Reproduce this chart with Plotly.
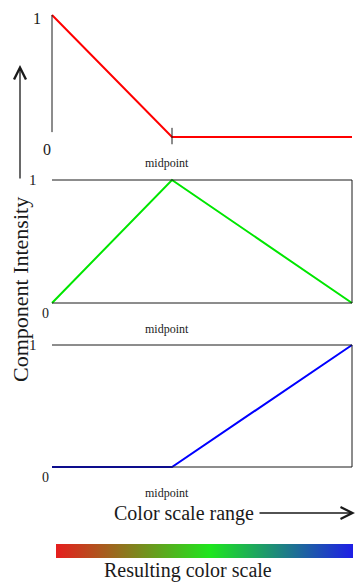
import plotly.graph_objects as go

W, H = 359, 583
FONT = 'Liberation Serif'
INK = '#1a1a1a'

# posicion sobre la escala de colores (0 = inicio, 1 = final)
scale_x = [0, 0.4, 1]
red_vals = [1, 0, 0]
green_vals = [0, 1, 0]
blue_vals = [0, 0, 1]
midpoint = 0.4

# barra de colores resultante
bar_stops = [0, 0.52, 1]
bar_colors = ['#e61e1e', '#1ee61e', '#1e1ee6']

tick_low = '0'
tick_high = '1'
mid_label = 'midpoint'

# --- maquetacion en pixeles ---
X0, X1 = 52, 352
PAD_X, PAD_Y = 0.02, 0.06
# (px de y=1, px de y=0) para cada panel
panels = [(15, 137), (180, 303), (345, 467)]
series = [(red_vals, '#ff0000'), (green_vals, '#00e600'), (blue_vals, '#0000ff')]


def x_domain():
    span = X1 - X0
    return [(X0 - PAD_X * span) / W, (X1 + PAD_X * span) / W]


def y_domain(top, bot):
    span = bot - top
    return [1 - (bot + PAD_Y * span) / H, 1 - (top - PAD_Y * span) / H]


fig = go.Figure()
shapes = []
annotations = []
line_style = dict(color=INK, width=1)

for i, ((top, bot), (vals, color)) in enumerate(zip(panels, series)):
    n = '' if i == 0 else str(i + 1)
    xa, ya = 'x' + n, 'y' + n
    fig.add_trace(go.Scatter(x=scale_x, y=vals, mode='lines',
                             line=dict(color=color, width=2),
                             xaxis=xa, yaxis=ya, showlegend=False,
                             hoverinfo='skip'))
    ax_opts = dict(visible=False, fixedrange=True)
    fig.update_layout(**{
        'xaxis' + n: dict(domain=x_domain(), range=[-PAD_X, 1 + PAD_X],
                          anchor=ya, **ax_opts),
        'yaxis' + n: dict(domain=y_domain(top, bot), range=[-PAD_Y, 1 + PAD_Y],
                          anchor=xa, **ax_opts),
    })
    ref = dict(xref=xa, yref=ya)
    if i == 0:
        shapes.append(dict(type='line', x0=0, x1=0, y0=0.04, y1=1, line=line_style, **ref))
        shapes.append(dict(type='line', x0=midpoint, x1=midpoint, y0=-0.11, y1=0.075,
                           line=line_style, **ref))
        annotations.append(dict(x=0, y=1, text=tick_high, showarrow=False,
                                xanchor='right', xshift=-9, yshift=-3,
                                font=dict(size=16), **ref))
        annotations.append(dict(x=0, y=0, text=tick_low, showarrow=False,
                                xanchor='right', yanchor='top', xshift=1, yshift=-2,
                                font=dict(size=16), **ref))
    else:
        for x0, x1, y0, y1 in [(0, 1, 1, 1), (1, 1, 0, 1), (0, 1, 0, 0)]:
            shapes.append(dict(type='line', x0=x0, x1=x1, y0=y0, y1=y1,
                               line=line_style, **ref))
        annotations.append(dict(x=0, y=1, text=tick_high, showarrow=False,
                                xanchor='right', xshift=-13,
                                font=dict(size=15), **ref))
        annotations.append(dict(x=0, y=0, text=tick_low, showarrow=False,
                                xanchor='right', yanchor='top', xshift=-1, yshift=-1,
                                font=dict(size=14), **ref))
    annotations.append(dict(x=midpoint, y=0, text=mid_label, showarrow=False,
                            yanchor='top', xshift=-5, yshift=-17,
                            font=dict(size=12), **ref))

# traza auxiliar solo para mostrar la escala de colores
fig.add_trace(go.Scatter(
    x=[0.5], y=[-10], mode='markers', xaxis='x3', yaxis='y3',
    showlegend=False, hoverinfo='skip',
    marker=dict(color=[0], cmin=0, cmax=1,
                colorscale=[[s, c] for s, c in zip(bar_stops, bar_colors)],
                showscale=True,
                colorbar=dict(orientation='h', x=(56 + 353) / 2 / W, xanchor='center',
                              y=1 - 544 / H, yanchor='top', len=297, lenmode='pixels',
                              thickness=14, thicknessmode='pixels', outlinewidth=0,
                              showticklabels=False, ticks='', xpad=0, ypad=0))))

paper = dict(xref='paper', yref='paper', xanchor='center', yanchor='middle')
annotations += [
    dict(x=20 / W, y=1 - 290 / H, text='Component Intensity', textangle=-90,
         showarrow=False, font=dict(size=22), **paper),
    dict(x=20 / W, y=1 - 65 / H, text='', showarrow=True, ax=0, ay=115,
         arrowhead=5, arrowsize=1.8, arrowwidth=1.3, arrowcolor=INK, **paper),
    dict(x=184 / W, y=1 - 513 / H, text='Color scale range', showarrow=False,
         font=dict(size=20), **paper),
    dict(x=355 / W, y=1 - 513 / H, text='', showarrow=True, ax=-97, ay=0,
         arrowhead=5, arrowsize=1.8, arrowwidth=1.3, arrowcolor=INK, **paper),
    dict(x=188 / W, y=1 - 570 / H, text='Resulting color scale', showarrow=False,
         font=dict(size=20), **paper),
]

fig.update_layout(
    width=W, height=H,
    margin=dict(l=0, r=0, t=0, b=0, autoexpand=False),
    paper_bgcolor='white', plot_bgcolor='white',
    font=dict(family=FONT, color=INK),
    shapes=shapes, annotations=annotations,
)

# quitar el margen por defecto del body para que la figura empiece en (0, 0)
fig.write_html("out.html", config={'displayModeBar': False},
               post_script="document.body.style.margin='0';")
